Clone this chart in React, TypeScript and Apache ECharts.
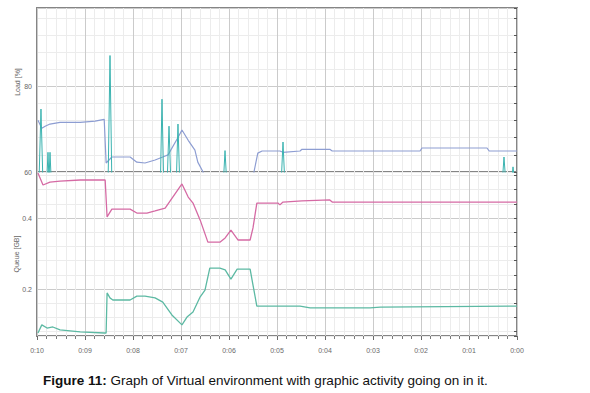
import React, { useEffect, useRef } from 'react';
import * as echarts from 'echarts';

// Tick labels
const timeTickLabels = ['0:00', '0:01', '0:02', '0:03', '0:04', '0:05', '0:06', '0:07', '0:08', '0:09', '0:10'];
const loadTickLabels = [60, 80];
const queueTickLabels = [0.2, 0.4];

// Top panel: load (blue-grey line), time in minutes remaining
const loadTimes = [9.98, 9.9, 9.83, 9.73, 9.52, 9.1, 8.79, 8.6, 8.56, 8.44, 8.06, 7.92, 7.75, 7.54, 7.38, 7.27, 7.06, 6.98, 6.85, 6.71, 6.65, 6.54, 6.5, 5.52, 5.48, 5.4, 5.31, 4.94, 4.875, 4.52, 4.48, 3.9, 3.85, 2.02, 1.98, 0.625, 0.58, 0];
const loadValues = [72.1, 70.2, 70.7, 71.2, 71.6, 71.6, 71.9, 72.3, 62.1, 63.5, 63.5, 62.3, 62.1, 62.8, 63.5, 64.0, 68.1, 69.8, 67.4, 65.1, 62.3, 60.0, 57, 57, 60.0, 64.4, 64.9, 64.9, 64.6, 64.9, 65.3, 65.3, 64.9, 64.9, 65.6, 65.6, 64.9, 64.9];

// Top panel: load spikes (teal)
const spikeTimes = [10, 9.96, 9.917, 9.875, 9.8, 9.771, 9.75, 9.729, 9.7, 8.52, 8.479, 8.44, 7.43, 7.396, 7.36, 7.29, 7.25, 7.21, 7.1, 7.063, 7.025, 6.12, 6.083, 6.045, 4.915, 4.875, 4.835, 0.31, 0.271, 0.23, 0.12, 0.083, 0.046, 0];
const spikeValues = [57, 57, 74.7, 57, 57, 64.6, 58, 64.6, 57, 57, 87.2, 57, 57, 77.0, 57, 57, 70.7, 57, 57, 71.2, 57, 57, 65.0, 57, 57, 67.0, 57, 57, 63.5, 57, 57, 61.2, 57, 57];

// Bottom panel: queue (pink)
const queuePinkTimes = [9.98, 9.875, 9.73, 9.52, 9.1, 8.58, 8.54, 8.44, 8.06, 7.92, 7.71, 7.54, 7.33, 6.98, 6.85, 6.75, 6.6, 6.44, 6.19, 6.08, 5.96, 5.81, 5.56, 5.5, 5.42, 4.98, 4.94, 4.875, 4.48, 3.9, 3.85, 0];
const queuePinkValues = [0.527, 0.493, 0.501, 0.504, 0.507, 0.507, 0.403, 0.425, 0.425, 0.414, 0.414, 0.42, 0.428, 0.496, 0.459, 0.442, 0.394, 0.332, 0.332, 0.344, 0.366, 0.338, 0.338, 0.372, 0.442, 0.442, 0.437, 0.445, 0.448, 0.451, 0.445, 0.445];

// Bottom panel: queue (teal)
const queueTealTimes = [9.98, 9.9, 9.79, 9.67, 9.52, 9.31, 9.1, 8.6, 8.56, 8.54, 8.48, 8.42, 8.06, 7.92, 7.75, 7.54, 7.38, 7.19, 6.98, 6.875, 6.75, 6.6, 6.5, 6.4, 6.19, 6.08, 5.96, 5.83, 5.56, 5.5, 5.42, 4.52, 4.31, 3.06, 2.85, 0];
const queueTealValues = [0.076, 0.099, 0.09, 0.093, 0.085, 0.082, 0.079, 0.076, 0.076, 0.189, 0.175, 0.169, 0.169, 0.18, 0.18, 0.175, 0.163, 0.127, 0.099, 0.121, 0.135, 0.178, 0.197, 0.259, 0.259, 0.254, 0.228, 0.256, 0.256, 0.211, 0.152, 0.152, 0.147, 0.147, 0.149, 0.152];

const zip = (t: number[], v: number[]) => t.map((x, i) => [x, v[i]]);
const FONT = 'Liberation Sans, Arial, sans-serif';
const LIGHT = '#ececec';
const DARK = '#cbcbcb';

export default function App() {
  const ref = useRef<HTMLDivElement>(null);

  useEffect(() => {
    const chart = echarts.init(ref.current!, null, { renderer: 'svg' });

    const xAxis = (gridIndex: number, show: boolean) => ({
      type: 'value',
      gridIndex,
      inverse: true,
      min: 0,
      max: 10,
      interval: 1,
      axisLine: { show: false },
      axisTick: { show, length: 4, lineStyle: { color: '#6a6a6a' } },
      minorTick: { show, splitNumber: 5, length: 3, lineStyle: { color: '#7a7a7a' } },
      axisLabel: {
        show,
        formatter: (v: number) => timeTickLabels[Math.round(v)],
        fontSize: 7,
        color: '#6a6a6a',
        margin: 11,
        fontFamily: FONT,
      },
      splitLine: { show: true, lineStyle: { color: DARK, width: 1 } },
      minorSplitLine: { show: true, lineStyle: { color: LIGHT, width: 1 } },
    });

    const labelFmt = (list: number[]) => (v: number) =>
      list.some((l) => Math.abs(l - v) < 1e-6) ? String(v) : '';

    chart.setOption({
      animation: false,
      backgroundColor: '#ffffff',
      grid: [
        { left: 37, top: 8, width: 480, height: 164, show: true, borderColor: '#858585', borderWidth: 2, backgroundColor: '#fff' },
        { left: 37, top: 172, width: 480, height: 164, show: true, borderColor: '#858585', borderWidth: 2, backgroundColor: '#fff' },
      ],
      xAxis: [xAxis(0, false), xAxis(1, true)],
      yAxis: [
        {
          type: 'value',
          gridIndex: 0,
          min: 60,
          max: 98.3,
          minInterval: 4,
          maxInterval: 4,
          splitNumber: 10,
          axisLine: { show: false },
          axisTick: { show: true, length: 3, lineStyle: { color: '#555' } },
          axisLabel: { formatter: labelFmt(loadTickLabels), fontSize: 7, color: '#666', margin: 5, fontFamily: FONT },
          splitLine: { show: true, lineStyle: { color: [DARK, LIGHT, LIGHT, LIGHT, LIGHT], width: 1 } },
        },
        {
          type: 'value',
          gridIndex: 1,
          min: 0.0676,
          max: 0.5296,
          minInterval: 0.04,
          maxInterval: 0.04,
          splitNumber: 12,
          axisLine: { show: false },
          axisTick: { show: true, length: 3, lineStyle: { color: '#555' } },
          axisLabel: { formatter: labelFmt(queueTickLabels), fontSize: 7, color: '#666', margin: 5, fontFamily: FONT },
          splitLine: { show: true, lineStyle: { color: [LIGHT, LIGHT, LIGHT, LIGHT, DARK], width: 1 } },
        },
      ],
      series: [
        {
          type: 'line', xAxisIndex: 0, yAxisIndex: 0, data: zip(loadTimes, loadValues),
          showSymbol: false, clip: true, lineStyle: { color: '#8d9dd2', width: 1.2 }, z: 3,
        },
        {
          type: 'line', xAxisIndex: 0, yAxisIndex: 0, data: zip(spikeTimes, spikeValues),
          showSymbol: false, clip: true, lineStyle: { color: '#3bb3b0', width: 1 }, z: 4,
        },
        {
          type: 'line', xAxisIndex: 1, yAxisIndex: 1, data: zip(queuePinkTimes, queuePinkValues),
          showSymbol: false, clip: true, lineStyle: { color: '#d56aa4', width: 1.3 }, z: 3,
        },
        {
          type: 'line', xAxisIndex: 1, yAxisIndex: 1, data: zip(queueTealTimes, queueTealValues),
          showSymbol: false, clip: true, lineStyle: { color: '#5cb9a3', width: 1.3 }, z: 3,
        },
      ],
      graphic: [
        {
          type: 'text', x: 17, y: 82, rotation: Math.PI / 2,
          style: { text: 'Load [%]', fontSize: 7, fill: '#666', align: 'center', verticalAlign: 'middle', fontFamily: FONT },
        },
        {
          type: 'text', x: 16, y: 254, rotation: Math.PI / 2,
          style: { text: 'Queue [GB]', fontSize: 7, fill: '#666', align: 'center', verticalAlign: 'middle', fontFamily: FONT },
        },
        {
          type: 'text', x: 43, y: 380,
          style: {
            text: '{b|Figure 11:} Graph of Virtual environment with graphic activity going on in it.',
            fontSize: 13.5, fill: '#111', verticalAlign: 'middle', fontFamily: FONT,
            rich: { b: { fontWeight: 'bold', fontSize: 13.5, fill: '#111', fontFamily: FONT } },
          },
        },
      ],
    });

    return () => chart.dispose();
  }, []);

  return <div ref={ref} style={{ position: 'absolute', left: 0, top: 0, width: 590, height: 393 }} />;
}
